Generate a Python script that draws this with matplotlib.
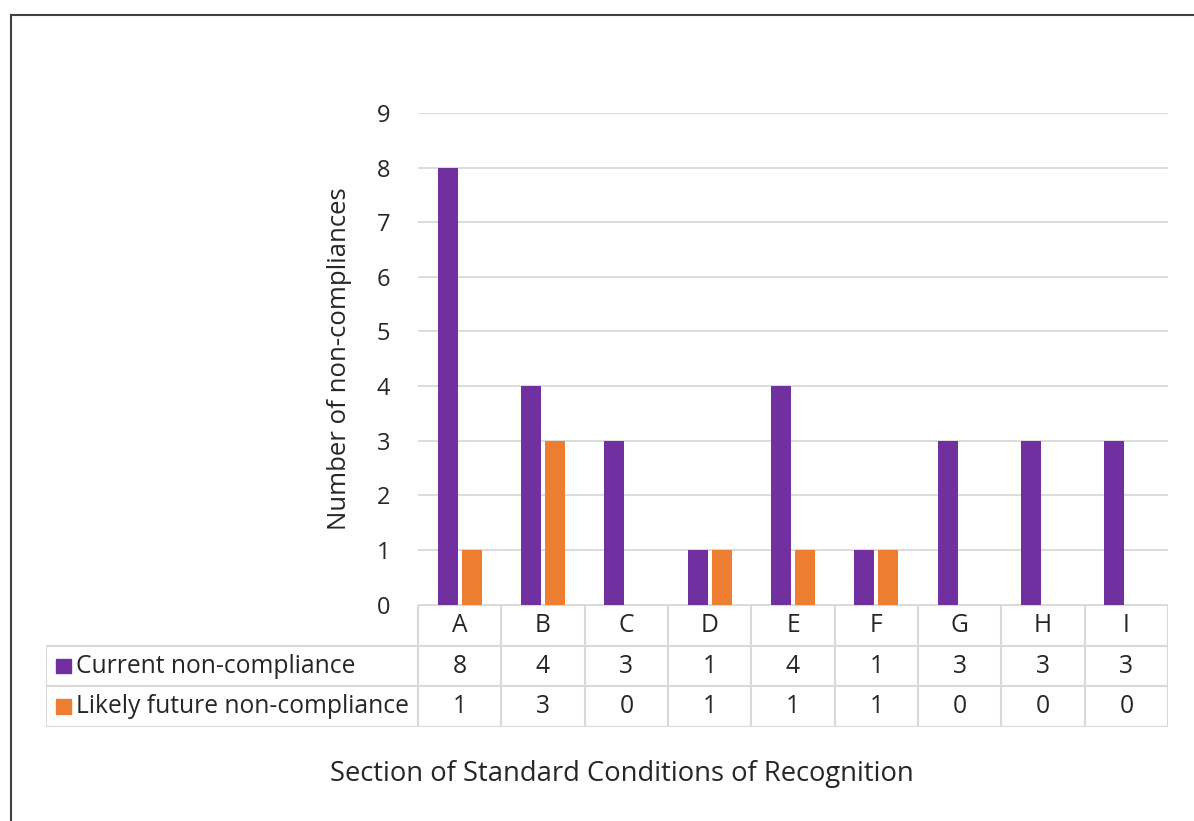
import matplotlib
matplotlib.use("Agg")
import matplotlib.pyplot as plt
import numpy as np

# =========================
# DATA
# =========================

sections = ["A", "B", "C", "D", "E", "F", "G", "H", "I"]
current = [8, 4, 3, 1, 4, 1, 3, 3, 3]
likely_future = [1, 3, 0, 1, 1, 1, 0, 0, 0]
series_names = ["Current non-compliance", "Likely future non-compliance"]
y_ticks = list(range(0, 10))

PURPLE = "#7030A0"
ORANGE = "#ED7D31"
GRID = "#D9D9D9"
TEXT = "#262626"

plt.rcParams["font.family"] = ["Open Sans", "DejaVu Sans"]

W, H = 1194, 821
fig = plt.figure(figsize=(W / 100, H / 100), dpi=100)

# outer frame (only left and top edges visible)
fig.add_artist(plt.Line2D([11 / W, 11 / W], [0, 1 - 15 / H], color="#404040", lw=1.5))
fig.add_artist(plt.Line2D([11 / W, 1], [1 - 15 / H, 1 - 15 / H], color="#404040", lw=1.5))

# =========================
# BAR PLOT
# =========================

ax = fig.add_axes([418 / W, 1 - 604.5 / H, 750 / W, 491.5 / H])
x = np.arange(len(sections))
bw = 0.24
gap = 0.05
ax.bar(x - (bw + gap) / 2, current, bw, color=PURPLE, zorder=3)
ax.bar(x + (bw + gap) / 2, likely_future, bw, color=ORANGE, zorder=3)

ax.set_xlim(-0.5, len(sections) - 0.5)
ax.set_ylim(0, 9)
ax.set_yticks(y_ticks)
ax.set_xticks([])
for s in ax.spines.values():
    s.set_visible(False)
ax.yaxis.grid(True, color=GRID, lw=1.3)
ax.tick_params(axis="y", length=0, pad=20, labelsize=17, labelcolor=TEXT)
ax.set_ylabel("Number of non-compliances", fontsize=18.5, color=TEXT, labelpad=18)

# =========================
# DATA TABLE
# =========================

cw = 750 / len(sections)  # px per category
label_w = (418 - 46) / cw
tab = fig.add_axes([46 / W, 1 - 727 / H, (1168 - 46) / W, 122 / H])
tab.set_xlim(-0.5 - label_w, len(sections) - 0.5)
tab.set_ylim(3, 0)
tab.axis("off")

lk = dict(color=GRID, lw=1.5, solid_capstyle="butt")
tab.plot([-0.5, len(sections) - 0.5], [0, 0], **lk)
for r in (1, 2, 3):
    tab.plot([-0.5 - label_w, len(sections) - 0.5], [r, r], **lk)
tab.plot([-0.5 - label_w, -0.5 - label_w], [1, 3], **lk)
for i in range(len(sections) + 1):
    tab.plot([i - 0.5, i - 0.5], [0, 3], **lk)

fs = 17.7
for i, s in enumerate(sections):
    tab.text(i, 0.5, s, ha="center", va="center", fontsize=fs, color=TEXT)
    tab.text(i, 1.5, str(current[i]), ha="center", va="center", fontsize=fs, color=TEXT)
    tab.text(i, 2.5, str(likely_future[i]), ha="center", va="center", fontsize=fs, color=TEXT)

sq = 15 / cw
for r, (name, col) in enumerate(zip(series_names, [PURPLE, ORANGE])):
    x0 = -0.5 - label_w + 10 / cw
    tab.add_patch(plt.Rectangle((x0, r + 1.5 - 0.18), sq, 0.36, color=col))
    tab.text(x0 + sq + 5 / cw, r + 1.5, name,
             ha="left", va="center", fontsize=fs, color=TEXT)

fig.text(622 / W, 1 - 774 / H, "Section of Standard Conditions of Recognition",
         ha="center", va="center", fontsize=19.7, color=TEXT)

fig.savefig("out.png", dpi=100, facecolor="white")
